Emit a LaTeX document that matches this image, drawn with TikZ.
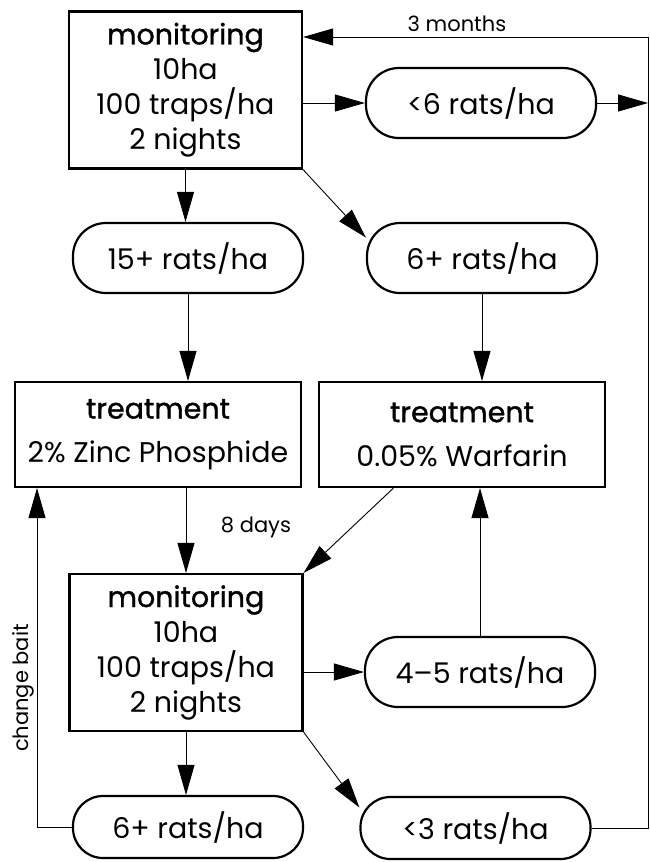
\documentclass[tikz,border=0pt]{standalone}
\usepackage{fontspec}
\setmainfont{Poppins}
\newfontfamily\headfont{Poppins}[FakeBold=1.2]
\usetikzlibrary{arrows.meta, calc}

\begin{document}
\begin{tikzpicture}[
    x=1pt, y=-1pt,
    font=\fontsize{28.5}{35}\selectfont,
    box/.style={rectangle, draw, line width=2.2pt, minimum width=233pt, minimum height=157pt, align=center, inner sep=0pt},
    treatbox/.style={box, minimum width=286pt, minimum height=105pt},
    count/.style={rectangle, draw, line width=2.2pt, rounded corners=33pt, minimum width=230pt, minimum height=70pt, inner sep=0pt},
    arrow/.style={-{Triangle[length=30pt,width=17pt]}, line width=0.9pt},
    lbl/.style={font=\fontsize{21}{24}\selectfont, inner sep=0pt}
]
    \useasboundingbox (0,0) rectangle (650,862);

    % first survey
    \node[box] (mon1) at (185.5,90) {{\headfont monitoring}\\ 10ha\\ 100 traps/ha\\ 2 nights};
    \node[count] (less6) at (481,103) {<6 rats/ha};
    \node[count] (r15) at (188,258) {15+ rats/ha};
    \node[count] (r6a) at (482,258) {6+ rats/ha};

    % baits
    \node[treatbox] (treat1) at (158,434.5) {{\headfont treatment}\\[9pt] 2\% Zinc Phosphide};
    \node[treatbox] (treat2) at (462,434.5) {{\headfont treatment}\\[9pt] 0.05\% Warfarin};

    % second survey
    \node[box] (mon2) at (186,652.5) {{\headfont monitoring}\\ 10ha\\ 100 traps/ha\\ 2 nights};
    \node[count] (r45) at (480,672) {4--5 rats/ha};
    \node[count, minimum height=62pt, rounded corners=30pt] (r6b) at (188,827) {6+ rats/ha};
    \node[count, minimum height=62pt, rounded corners=30pt] (r3) at (475.5,828) {<3 rats/ha};

    \coordinate (rline) at (648,37);
    \coordinate (lbait) at (37,0);

    \node[lbl] (months) at (457,24) {3 months};
    \node[lbl] (days) at (256,527) {8 days};
    \node[lbl, rotate=90] (bait) at (23,688) {change bait};

    \draw[arrow] (less6.west -| mon1.east) -- (less6.west);
    \draw[arrow] (less6.east) -- (less6.east -| rline);
    \draw[arrow] (mon1.south) -- (mon1.south |- r15.north);
    \draw[arrow] (mon1.south east) -- (r6a.170);
    \draw[arrow] (r15.south) -- (r15.south |- treat1.north);
    \draw[arrow] (r6a.south) -- (r6a.south |- treat2.north);
    \draw[arrow] (treat1.south -| mon2.north) -- (mon2.north);
    \draw[arrow] (treat2.218) -- (mon2.north east);
    \draw[arrow] (r45.west -| mon2.east) -- (r45.west);
    \draw[arrow] (r45.north) -- (r45.north |- treat2.south);
    \draw[arrow] (mon2.south) -- (mon2.south |- r6b.north);
    \draw[arrow] (mon2.south east) -- (r3.170);
    \draw[arrow] (r6b.west) -| (treat1.south -| lbait);
    \draw[arrow] (r3.east) -| (rline) -- (rline -| mon1.east);
\end{tikzpicture}
\end{document}
